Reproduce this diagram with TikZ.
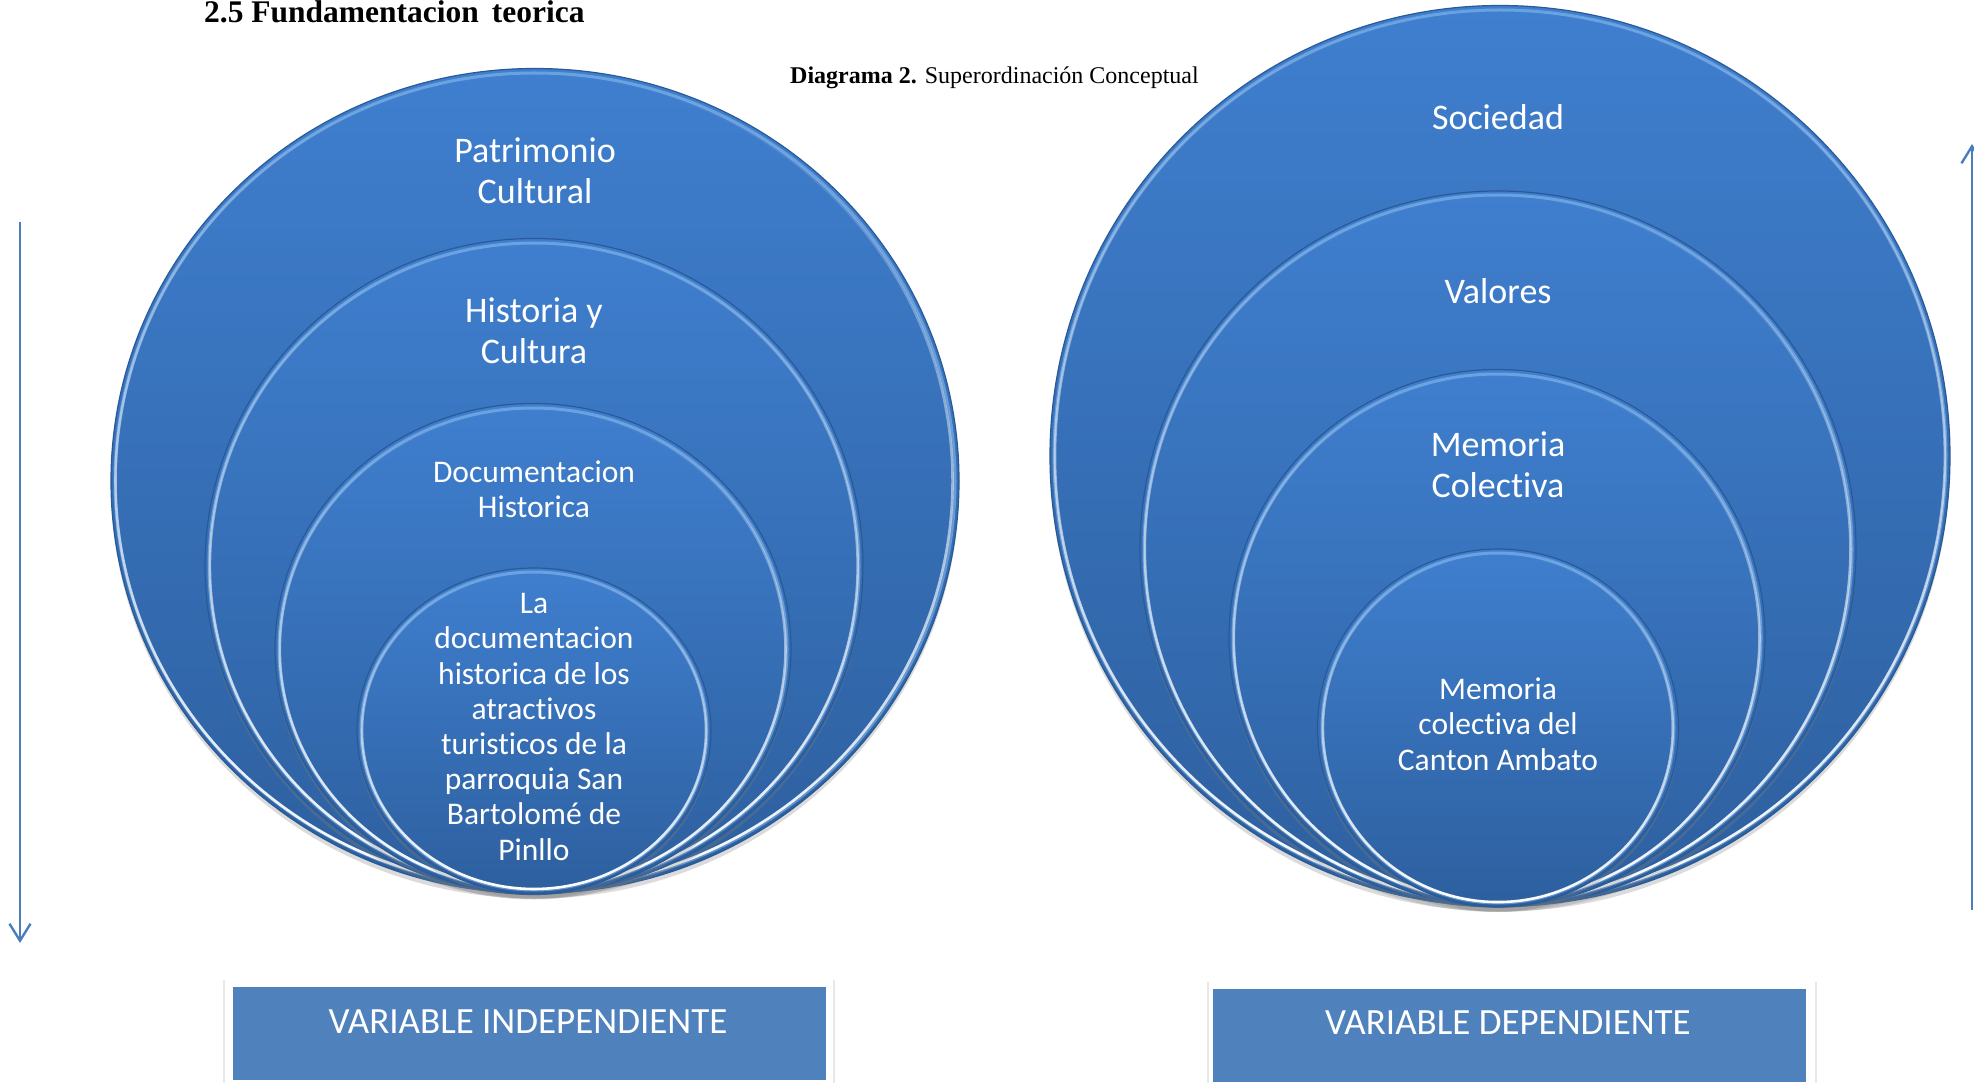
\documentclass[tikz,border=0pt]{standalone}
\usepackage{fontspec}
\setmainfont{Liberation Serif}
\newfontfamily\calib[Ligatures=NoCommon]{Carlito}
\usetikzlibrary{shapes.geometric,shadows,arrows.meta,fadings}
\definecolor{btop}{HTML}{3F7FCF}
\definecolor{bbot}{HTML}{2D5F9E}
\definecolor{bedge}{HTML}{2A5A96}
\definecolor{boxblue}{HTML}{4F81BD}
\definecolor{arrowblue}{HTML}{4A7EBB}
\definecolor{glow}{HTML}{8FC0F0}
\begin{document}
\begin{tikzpicture}[x=1pt,y=-1pt,
  bubble/.style={ellipse, inner sep=0pt, outer sep=0pt, top color=btop, bottom color=bbot,
    draw=bedge, line width=1.2pt,
    drop shadow={opacity=0.28, shadow xshift=0pt, shadow yshift=-5pt}},
  glowrim/.style={draw=glow, line width=3pt, opacity=0.55},
  rim/.style={draw=white, line width=2.6pt, path fading=north, fit fading=true},
  bigtxt/.style={font=\calib\fontsize{36}{41}\selectfont, text=white, align=center, anchor=base, inner sep=0pt},
  smalltxt/.style={font=\calib\fontsize{31.5}{35.2}\selectfont, text=white, align=center, anchor=base, inner sep=0pt},
  flow/.style={draw=arrowblue, line width=2.4pt, -{Straight Barb[length=17pt, width=21pt, line width=2.4pt]}},
  frame/.style={rectangle, fill=white, inner sep=0pt, outer sep=0pt,
    drop shadow={opacity=0.18, shadow xshift=0pt, shadow yshift=0pt, shadow scale=1.008}},
  varbox/.style={rectangle, fill=boxblue, inner sep=0pt, outer sep=0pt},
  vartxt/.style={font=\calib\fontsize{37}{42}\selectfont, text=white, anchor=base, inner sep=0pt}
]
\useasboundingbox[fill=white] (0,0) rectangle (1974,1083);

% titles
\node[anchor=base west, inner sep=0pt, font=\bfseries\fontsize{31.5}{36}\selectfont] (title) at (204,23) {2.5 Fundamentacion\hspace{13pt}teorica};
\node[anchor=base west, inner sep=0pt, font=\fontsize{24}{28}\selectfont] (cap) at (790,84) {\textbf{Diagrama 2.} Superordinación Conceptual};

% left nested ellipses
\node[bubble, minimum width=848pt, minimum height=825pt] (L1) at (535,481) {};
\draw[glowrim] (L1.center) ellipse (420pt and 408pt);
\draw[rim] (L1.center) ellipse (419pt and 407pt);
\node[bubble, minimum width=658pt, minimum height=655pt] (L2) at (534,566) {};
\draw[glowrim] (L2.center) ellipse (325pt and 323pt);
\draw[rim] (L2.center) ellipse (324pt and 322pt);
\node[bubble, minimum width=516pt, minimum height=491pt] (L3) at (533,649) {};
\draw[glowrim] (L3.center) ellipse (254pt and 241pt);
\draw[rim] (L3.center) ellipse (253pt and 240pt);
\node[bubble, minimum width=354pt, minimum height=326pt] (L4) at (534,731) {};
\draw[glowrim] (L4.center) ellipse (173pt and 159pt);
\draw[rim] (L4.center) ellipse (172pt and 158pt);

\node[bigtxt] (tL1) at (535,203.5) {Patrimonio\\Cultural};
\node[bigtxt] (tL2) at (534,363) {Historia y\\Cultura};
\node[smalltxt] (tL3) at (534,517.5) {Documentacion\\Historica};
\node[smalltxt] (tL4) at (534,860) {La\\documentacion\\historica de los\\atractivos\\turisticos de la\\parroquia San\\Bartolomé de\\Pinllo};

% right nested ellipses
\node[bubble, minimum width=900pt, minimum height=901pt] (R1) at (1500,456) {};
\draw[glowrim] (R1.center) ellipse (446pt and 446pt);
\draw[rim] (R1.center) ellipse (445pt and 445pt);
\node[bubble, minimum width=716pt, minimum height=716pt] (R2) at (1498,549) {};
\draw[glowrim] (R2.center) ellipse (354pt and 354pt);
\draw[rim] (R2.center) ellipse (353pt and 353pt);
\node[bubble, minimum width=536pt, minimum height=537pt] (R3) at (1497,638) {};
\draw[glowrim] (R3.center) ellipse (264pt and 264pt);
\draw[rim] (R3.center) ellipse (263pt and 263pt);
\node[bubble, minimum width=361pt, minimum height=358pt] (R4) at (1498,728) {};
\draw[glowrim] (R4.center) ellipse (176pt and 175pt);
\draw[rim] (R4.center) ellipse (175pt and 174pt);

\node[bigtxt] (tR1) at (1498,130) {Sociedad};
\node[bigtxt] (tR2) at (1498,304) {Valores};
\node[bigtxt] (tR3) at (1498,497.5) {Memoria\\Colectiva};
\node[smalltxt] (tR4) at (1498,770) {Memoria\\colectiva del\\Canton Ambato};

% arrows
\coordinate (a1s) at (20,222);
\coordinate (a1e) at (20,943);
\draw[flow] (a1s) -- (a1e);
\coordinate (a2s) at (1972,910);
\coordinate (a2e) at (1972,144);
\draw[flow] (a2s) -- (a2e);

% variable boxes
\node[frame, minimum width=608pt, minimum height=110pt] (fL) at (529,1035) {};
\node[varbox, minimum width=593pt, minimum height=93pt] (bL) at (529.5,1033.5) {};
\node[vartxt] (vL) at (528,1033) {VARIABLE INDEPENDIENTE};
\node[frame, minimum width=606pt, minimum height=108pt] (fR) at (1512,1036) {};
\node[varbox, minimum width=593pt, minimum height=93pt] (bR) at (1509.5,1035.5) {};
\node[vartxt] (vR) at (1508,1034) {VARIABLE DEPENDIENTE};
\end{tikzpicture}
\end{document}
